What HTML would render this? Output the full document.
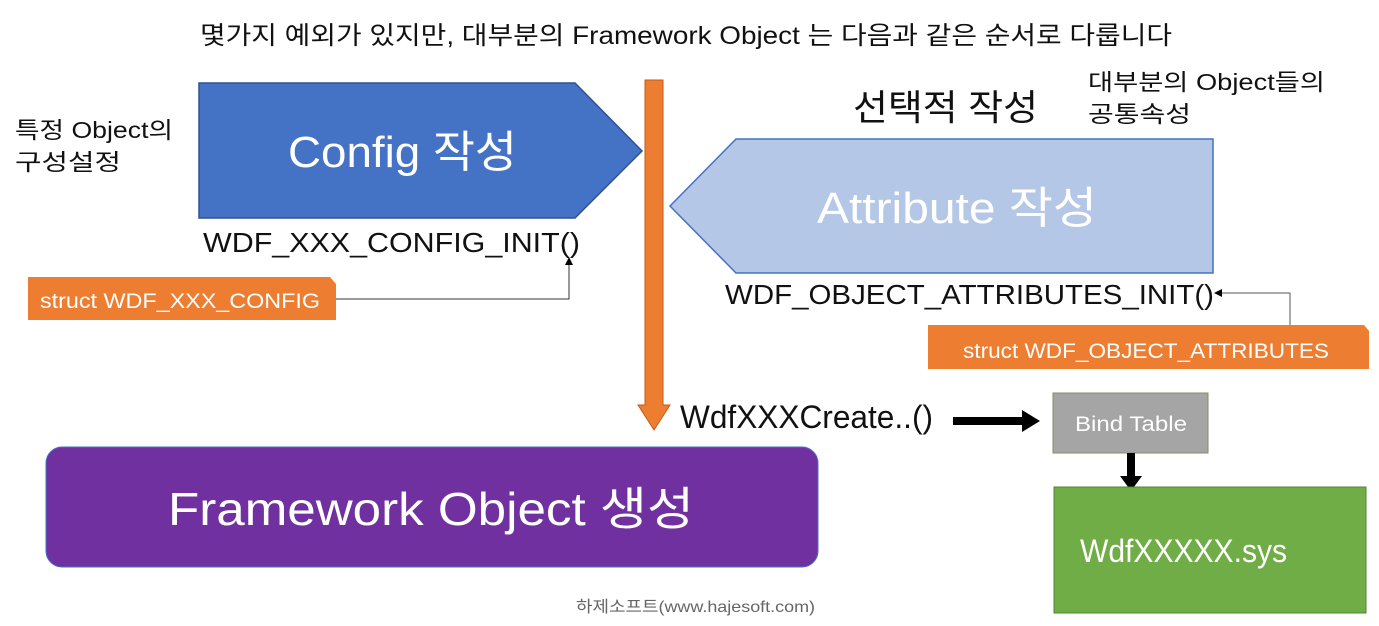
<!DOCTYPE html>
<html><head><meta charset="utf-8"><style>
html,body{margin:0;padding:0;background:#fff;}
svg{display:block;font-family:"Liberation Sans","Noto Sans CJK KR",sans-serif;}
</style></head><body>
<svg width="1379" height="626" viewBox="0 0 1379 626" xmlns="http://www.w3.org/2000/svg">
<defs>
<marker id="a" markerWidth="8" markerHeight="8" refX="7" refY="4" orient="auto" markerUnits="userSpaceOnUse"><path d="M0,0 L8,4 L0,8 z" fill="#000"/></marker>
</defs>
<rect width="1379" height="626" fill="#fff"/>
<text x="200" y="44" font-size="25" fill="#111" textLength="972" lengthAdjust="spacingAndGlyphs">몇가지 예외가 있지만, 대부분의 Framework Object 는 다음과 같은 순서로 다룹니다</text>

<text x="15" y="138" font-size="23" fill="#111" textLength="158" lengthAdjust="spacingAndGlyphs">특정 Object의</text>
<text x="15" y="170" font-size="23" fill="#111" textLength="106" lengthAdjust="spacingAndGlyphs">구성설정</text>

<polygon points="199,83 575,83 642,151 575,218 199,218" fill="#4472C4" stroke="#2F528F" stroke-width="1.5"/>
<text x="288" y="167" font-size="44" fill="#fff" textLength="229" lengthAdjust="spacingAndGlyphs">Config 작성</text>

<polygon points="1213,139 736,139 670,206 736,273 1213,273" fill="#B4C7E7" stroke="#4472C4" stroke-width="1.5"/>
<text x="817" y="223" font-size="44" fill="#fff" textLength="280" lengthAdjust="spacingAndGlyphs">Attribute 작성</text>

<text x="853" y="120" font-size="36" fill="#111" textLength="185" lengthAdjust="spacingAndGlyphs">선택적 작성</text>
<text x="1088" y="90" font-size="23" fill="#111" textLength="237" lengthAdjust="spacingAndGlyphs">대부분의 Object들의</text>
<text x="1088" y="122" font-size="23" fill="#111" textLength="103" lengthAdjust="spacingAndGlyphs">공통속성</text>

<polygon points="645,80 663,80 663,405 670,405 654,430 638,405 645,405" fill="#ED7D31" stroke="#C55A11" stroke-width="1"/>

<text x="203" y="252" font-size="28" fill="#111" textLength="377" lengthAdjust="spacingAndGlyphs">WDF_XXX_CONFIG_INIT()</text>
<polygon points="28,277 330,277 336,284 336,320 28,320" fill="#ED7D31"/>
<text x="40" y="308" font-size="21" fill="#fff" textLength="280" lengthAdjust="spacingAndGlyphs">struct WDF_XXX_CONFIG</text>
<polyline points="336,299 569,299 569,258" fill="none" stroke="#333" stroke-width="1" marker-end="url(#a)"/>

<text x="725" y="304" font-size="28" fill="#111" textLength="489" lengthAdjust="spacingAndGlyphs">WDF_OBJECT_ATTRIBUTES_INIT()</text>
<polygon points="928,325 1364,325 1369,331 1369,369 928,369" fill="#ED7D31"/>
<text x="963" y="358" font-size="21" fill="#fff" textLength="366" lengthAdjust="spacingAndGlyphs">struct WDF_OBJECT_ATTRIBUTES</text>
<polyline points="1290,325 1290,293 1215,293" fill="none" stroke="#555" stroke-width="1" marker-end="url(#a)"/>

<text x="680" y="428" font-size="32" fill="#111" textLength="253" lengthAdjust="spacingAndGlyphs">WdfXXXCreate..()</text>
<polygon points="953,417 1022,417 1022,410 1040,421 1022,432 1022,425 953,425" fill="#000"/>

<rect x="1053" y="393" width="155" height="60" fill="#A5A5A5" stroke="#8a8a6a" stroke-width="1"/>
<text x="1075" y="431" font-size="21" fill="#fff" textLength="112" lengthAdjust="spacingAndGlyphs">Bind Table</text>
<polygon points="1127,453 1135,453 1135,476 1142,476 1131,491 1120,476 1127,476" fill="#000"/>

<rect x="1054" y="487" width="312" height="126" fill="#70AD47" stroke="#548235" stroke-width="1"/>
<text x="1080" y="562" font-size="32" fill="#fff" textLength="207" lengthAdjust="spacingAndGlyphs">WdfXXXXX.sys</text>

<rect x="46" y="447" width="772" height="120" rx="16" fill="#7030A0" stroke="#4472C4" stroke-width="1"/>
<text x="168" y="525" font-size="46" fill="#fff" textLength="526" lengthAdjust="spacingAndGlyphs">Framework Object 생성</text>

<text x="576" y="612" font-size="16" fill="#666" textLength="239" lengthAdjust="spacingAndGlyphs">하제소프트(www.hajesoft.com)</text>
</svg>
</body></html>
